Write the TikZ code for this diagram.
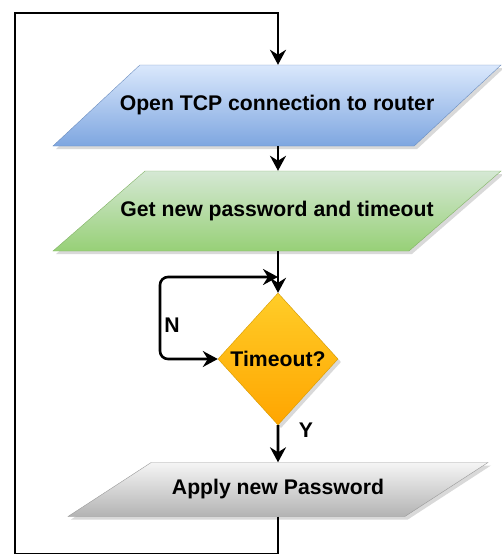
\documentclass[tikz,border=0pt]{standalone}
\usepackage{fontspec}
\setmainfont{Liberation Sans}
\usetikzlibrary{arrows.meta, shapes.geometric, shadows}
\definecolor{blueTop}{HTML}{DAE8FC}
\definecolor{blueBot}{HTML}{7EA6E0}
\definecolor{blueLine}{HTML}{6C8EBF}
\definecolor{greenTop}{HTML}{D5E8D4}
\definecolor{greenBot}{HTML}{97D077}
\definecolor{greenLine}{HTML}{82B366}
\definecolor{orangeTop}{HTML}{FFCD28}
\definecolor{orangeBot}{HTML}{FFA500}
\definecolor{orangeLine}{HTML}{D79B00}
\definecolor{grayTop}{HTML}{F5F5F5}
\definecolor{grayBot}{HTML}{B3B3B3}
\definecolor{grayLine}{HTML}{9A9A9A}

\tikzset{
  txt/.style={font=\bfseries\fontsize{21.2}{24}\selectfont, text=black},
  shade box/.style={drop shadow={shadow xshift=3pt, shadow yshift=-3pt, opacity=0.3}},
  iobox/.style={trapezium, trapezium stretches body, txt, shade box,
    text height=15pt, text depth=4.5pt, inner xsep=-40pt},
  decision/.style={diamond, aspect=0.91, minimum width=120pt, minimum height=132pt,
    inner sep=0pt, txt, shade box, top color=orangeTop, bottom color=orangeBot, draw=orangeLine},
  flow/.style={line width=2.6pt, -{Stealth[length=15pt, width=16pt, inset=5pt]}},
  lbl/.style={txt}
}

\begin{document}
\begin{tikzpicture}[x=1pt, y=-1pt]
  \useasboundingbox (0,0) rectangle (501,554);
  % Boxes
  \node[iobox, trapezium left angle=43, trapezium right angle=137,
        minimum width=448pt, inner ysep=30.75pt,
        top color=blueTop, bottom color=blueBot, draw=blueLine] (open) at (277,105.5)
        {Open TCP connection to router};
  \node[iobox, trapezium left angle=41, trapezium right angle=139,
        minimum width=448pt, inner ysep=30.25pt,
        top color=greenTop, bottom color=greenBot, draw=greenLine] (getpw) at (277,211)
        {Get new password and timeout};
  \node[decision] (timeout) at (278,359) {Timeout?};
  \node[iobox, trapezium left angle=33, trapezium right angle=147,
        minimum width=420pt, inner ysep=17.25pt,
        top color=grayTop, bottom color=grayBot, draw=grayLine] (apply) at (278,489.5)
        {Apply new Password};
  % Labels
  \node[lbl] (nlbl) at (172,325) {N};
  \node[lbl] (ylbl) at (306,430) {Y};
  % Helper points
  \coordinate (jn) at (278,277);
  \coordinate (bl) at (15,554);
  \coordinate (tl) at (15,13);
  % Connectors
  \draw[flow] (open.south -| jn) -- (getpw.north -| jn);
  \draw[flow] (getpw.south -| jn) -- (timeout);
  \draw[line width=2.6pt, rounded corners=8pt, {Stealth[length=15pt, width=16pt, inset=5pt]}-{Stealth[length=15pt, width=16pt, inset=5pt]}]
        (jn) -- (160,277) |- (timeout.west);
  \draw[flow] (timeout) -- (apply);
  \draw[flow] (apply.south) |- (bl) -- (tl) -| (open.north -| jn);
\end{tikzpicture}
\end{document}
